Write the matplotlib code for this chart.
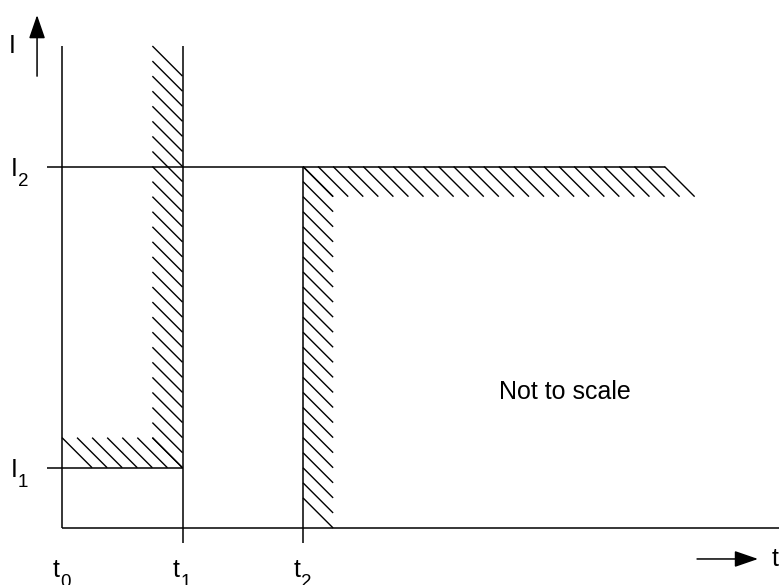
import matplotlib
matplotlib.use("Agg")
import matplotlib.pyplot as plt
import numpy as np
from matplotlib.collections import LineCollection

plt.rcParams["font.family"] = ["Liberation Sans", "DejaVu Sans"]

# time marks and current levels (diagram units)
t_pos = [0.0, 1.0, 2.0]
t_subs = ["0", "1", "2"]
I_levels = [0.5, 3.0]
I_subs = ["1", "2"]
I_top = 4.0        # top of the vertical lines
I2_end = 5.0       # where the I2 limit line stops
note = "Not to scale"

hatch_w = 0.25     # length of hatch strokes (x and y)
hatch_step = 0.125

t0, t1, t2 = t_pos
I1, I2 = I_levels

fig = plt.figure(figsize=(7.79, 5.85), dpi=100)
ax = fig.add_axes([0, 0, 1, 1])
ax.set_xlim(-0.5145, 5.950)
ax.set_ylim(-0.473, 4.382)
ax.axis("off")

lc = dict(color="black", lw=1.1, solid_capstyle="butt")

# axes of the diagram
ax.plot([t0, t0], [0, I_top], **lc)
ax.plot([t0, 5.95], [0, 0], **lc)

# vertical limits at t1 and t2 (with small ticks below the axis)
ax.plot([t1, t1], [-0.125, I_top], **lc)
ax.plot([t2, t2], [-0.125, I2], **lc)

# horizontal limits I1 and I2
ax.plot([t0 - 0.125, t1], [I1, I1], **lc)
ax.plot([t0 - 0.125, I2_end], [I2, I2], **lc)


def hatch(xs, ys):
    segs = [[(x, y), (x + hatch_w, y - hatch_w)] for x, y in zip(xs, ys)]
    ax.add_collection(LineCollection(segs, colors="black", linewidths=1.0))


# hatch left of t1
ys = np.arange(I1 + hatch_w, I_top + 1e-9, hatch_step)
hatch(np.full_like(ys, t1 - hatch_w), ys)
# hatch above I1
xs = np.arange(t0, t1 - hatch_w + 1e-9, hatch_step)
hatch(xs, np.full_like(xs, I1 + hatch_w))
# hatch right of t2
ys = np.arange(hatch_w, I2 + 1e-9, hatch_step)
hatch(np.full_like(ys, t2), ys)
# hatch below I2
xs = np.arange(t2, I2_end + 1e-9, hatch_step)
hatch(xs, np.full_like(xs, I2))

fs = 18
fs_sub = 13.5


def label(x, y, base, sub):
    # base letter with a lowered subscript, x/y = left end of baseline
    ax.text(x, y, base, fontsize=fs, ha="left", va="baseline")
    ax.annotate(sub, xy=(x, y), xytext=(5.2, -7.2), textcoords="offset points",
                fontsize=fs_sub, ha="left", va="baseline")


for x, s in zip(t_pos, t_subs):
    label(x - 0.078, -0.407, "t", s)
for y, s in zip(I_levels, I_subs):
    label(-0.425, y - 0.079, "I", s)

ax.text(-0.44, 3.94, "I", fontsize=fs, ha="left", va="baseline")
ax.text(5.89, -0.315, "t", fontsize=fs, ha="left", va="baseline")
ax.text(4.17, 1.13, note, fontsize=fs, ha="center", va="center")

# direction arrows
arrow = dict(arrowstyle="-|>,head_length=1.45,head_width=0.5", color="black", lw=1.1,
             shrinkA=0, shrinkB=0)
ax.annotate("", xy=(-0.207, 4.257), xytext=(-0.207, 3.75), arrowprops=arrow)
ax.annotate("", xy=(5.776, -0.257), xytext=(5.27, -0.257), arrowprops=arrow)

fig.savefig("out.png", dpi=100)
